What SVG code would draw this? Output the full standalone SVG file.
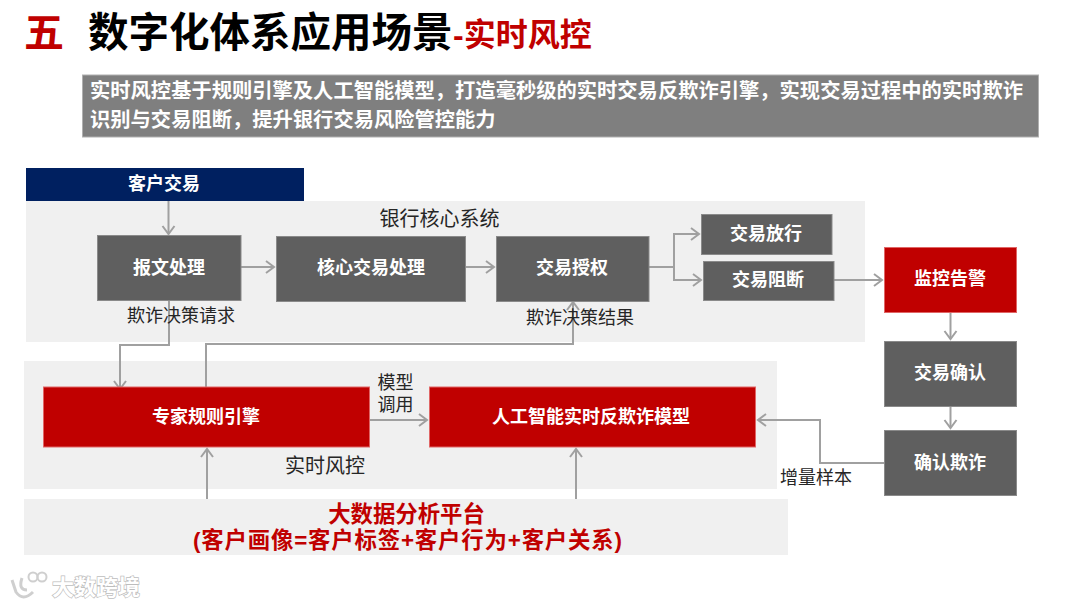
<svg xmlns="http://www.w3.org/2000/svg" width="1080" height="607" viewBox="0 0 1080 607">
<style>
text{font-family:"Liberation Sans","Noto Sans CJK SC",sans-serif}
.b{font-weight:700}
.nl{font-size:18px;font-weight:700;fill:#fff;text-anchor:middle}
.lb{font-size:18px;fill:#262626;text-anchor:middle}
.lg{font-size:20px;fill:#262626;text-anchor:middle}
.gray{fill:#5f5f5f;stroke:#8a8a8a;stroke-width:1}
.red{fill:#c00000;stroke:#e06666;stroke-width:1}
.panel{fill:#f0f0f0}
.c{fill:none;stroke:#a0a0a0;stroke-width:2;marker-end:url(#a)}
.wm{fill:#fff;stroke:#bdbdbd;stroke-width:1.4;paint-order:stroke}
</style>
<defs>
<marker id="a" markerUnits="userSpaceOnUse" markerWidth="14" markerHeight="16" refX="10" refY="7" orient="auto">
<path d="M2 1L10 7L2 13" fill="none" stroke="#a0a0a0" stroke-width="2"/>
</marker>
</defs>
<rect width="1080" height="607" fill="#fff"/>
<g id="title">
<text x="24" y="47" class="b" font-size="40" fill="#c00000">五</text>
<text x="88" y="47" class="b" font-size="40.500" fill="#000">数字化体系应用场景</text>
<text x="453" y="46" class="b" font-size="32" fill="#c00000">-实时风控</text>
</g>
<g id="summary">
<rect x="82.500" y="75" width="956" height="62" fill="#7f7f7f" stroke="#b0b0b0"/>
<text x="90" y="98" class="b" font-size="20.300" fill="#fff">实时风控基于规则引擎及人工智能模型，打造毫秒级的实时交易反欺诈引擎，实现交易过程中的实时欺诈</text>
<text x="90" y="127" class="b" font-size="20.300" fill="#fff">识别与交易阻断，提升银行交易风险管控能力</text>
</g>
<g id="panel-core"><rect class="panel" x="26" y="201" width="839" height="141"/><text x="439.500" y="226" class="lg">银行核心系统</text></g>
<g id="panel-risk"><rect class="panel" x="24" y="361" width="753" height="128"/><text x="325" y="473" class="lg">实时风控</text></g>
<g id="panel-bigdata"><rect class="panel" x="24" y="499" width="764" height="56"/>
<text x="406.500" y="522" class="b" font-size="22.400" fill="#c00000" text-anchor="middle">大数据分析平台</text>
<text x="193" y="548" class="b" font-size="22.400" fill="#c00000" textLength="429" lengthAdjust="spacing">(客户画像=客户标签+客户行为+客户关系)</text></g>
<g id="connectors">
<path class="c" d="M168.500 201V234"/>
<path class="c" d="M241 267H274"/>
<path class="c" d="M465 267H494"/>
<path class="c" d="M649 267H674V234H699"/>
<path class="c" d="M649 267H674V280H701"/>
<path class="c" d="M834 280H882"/>
<path class="c" d="M950.500 313V339"/>
<path class="c" d="M950.500 406V428"/>
<path class="c" d="M884 463H820V420H758"/>
<path class="c" d="M169 300V345H120V389"/>
<path class="c" d="M206 387V344H573V302"/>
<path class="c" d="M370 420H427"/>
<path class="c" d="M207 499V449"/>
<path class="c" d="M576 499V449"/>
</g>
<g id="n-customer"><rect x="26" y="168" width="278" height="33" fill="#002060"/><text x="164" y="190" class="nl">客户交易</text></g>
<g id="n-msg"><rect class="gray" x="97.500" y="235.500" width="143.500" height="65"/><text x="169" y="274" class="nl">报文处理</text></g>
<g id="n-coretx"><rect class="gray" x="276.500" y="236.500" width="189" height="65"/><text x="371" y="274" class="nl">核心交易处理</text></g>
<g id="n-auth"><rect class="gray" x="496.500" y="236.500" width="152.500" height="65"/><text x="572" y="274" class="nl">交易授权</text></g>
<g id="n-release"><rect class="gray" x="701.500" y="214.500" width="130.500" height="40"/><text x="766" y="240" class="nl">交易放行</text></g>
<g id="n-block"><rect class="gray" x="703.500" y="261.500" width="130.500" height="39"/><text x="768" y="286" class="nl">交易阻断</text></g>
<g id="n-alert"><rect class="red" x="884.500" y="247.500" width="132" height="65"/><text x="950" y="285" class="nl">监控告警</text></g>
<g id="n-confirm"><rect class="gray" x="884.500" y="341.500" width="132" height="65"/><text x="950" y="379" class="nl">交易确认</text></g>
<g id="n-fraud"><rect class="gray" x="884.500" y="430.500" width="132" height="65"/><text x="950" y="469" class="nl">确认欺诈</text></g>
<g id="n-rules"><rect class="red" x="43.500" y="387" width="326" height="60"/><text x="206" y="423" class="nl">专家规则引擎</text></g>
<g id="n-ai"><rect class="red" x="429.500" y="387" width="326" height="60"/><text x="591" y="423" class="nl">人工智能实时反欺诈模型</text></g>
<g id="labels">
<text x="181" y="322" class="lb">欺诈决策请求</text>
<text x="580" y="324" class="lb">欺诈决策结果</text>
<text x="395.500" y="389" class="lb">模型</text>
<text x="395.500" y="411" class="lb">调用</text>
<text x="816" y="484" class="lb">增量样本</text>
</g>
<g id="watermark">
<path d="M12 580L16 592Q23 602 33 592M22 578Q18 590 27 590" fill="none" stroke="#cfcfcf" stroke-width="3"/>
<circle cx="33" cy="577" r="4.500" fill="none" stroke="#cfcfcf" stroke-width="2"/>
<circle cx="42" cy="577" r="4.500" fill="none" stroke="#cfcfcf" stroke-width="2"/>
<text x="52" y="595" class="wm b" font-size="22">大数跨境</text>
</g>
</svg>
